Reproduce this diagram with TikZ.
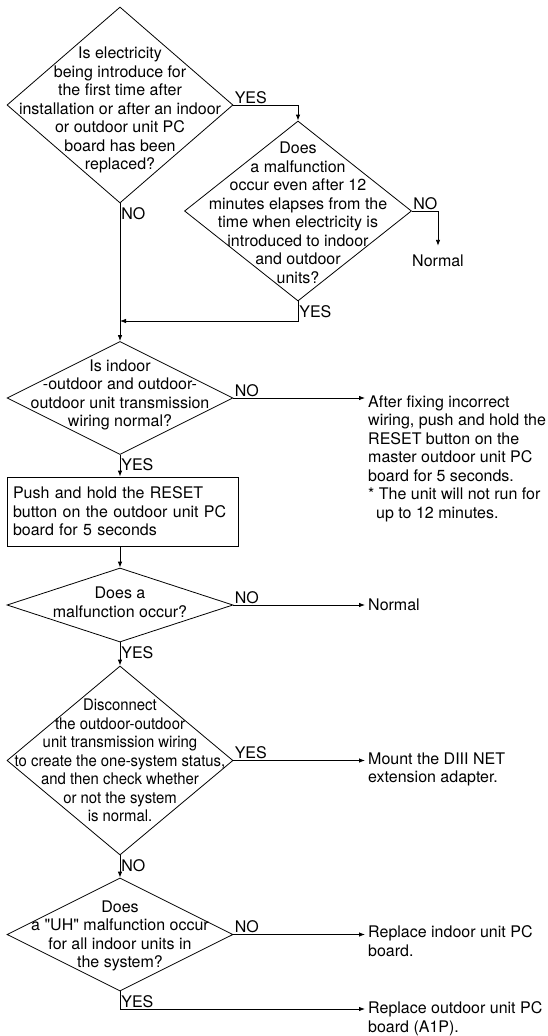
\documentclass[tikz,border=0pt]{standalone}
\usepackage{fontspec}
\usepackage{graphicx}
\setmainfont{TeX Gyre Heros}
\usetikzlibrary{positioning,arrows.meta,shapes.geometric,calc}
\tikzset{
  dia/.style={draw, diamond, inner sep=0pt, line width=0.8pt},
  qtext/.style={align=center, inner sep=0pt},
  stepbox/.style={draw, line width=0.8pt, align=left, inner ysep=0pt,
                  inner xsep=6pt},
  ans/.style={align=left, inner sep=0pt, anchor=north west},
  lbl/.style={inner sep=1pt},
  arrow/.style={-{Latex[length=6pt,width=4.5pt]}, line width=0.8pt},
}

\begin{document}
\begin{tikzpicture}[x=1pt, y=-1pt, font=\fontsize{16}{18.5}\selectfont]
  \useasboundingbox (0,0) rectangle (547,1036);

  % first start-up check
  \node[dia, minimum width=226pt, minimum height=196pt] (Q1) at (120,105) {};
  \node[qtext] (Q1t) at (120,110) {Is electricity\\being introduce for\\the first time after\\installation or after an indoor\\or outdoor unit PC\\board has been\\replaced?};
  \node[dia, minimum width=227pt, minimum height=180pt] (Q2) at (298,211) {};
  \node[qtext] (Q2t) at (298,213) {Does\\a malfunction\\occur even after 12\\minutes elapses from the\\time when electricity is\\introduced to indoor\\and outdoor\\units?};
  \node[inner sep=0pt] (N1) at (438,261) {Normal};
  \coordinate (J1) at (120,321);

  \draw[arrow] (Q1.east) -| (Q2.north) node[lbl, pos=0, anchor=south west] (L1) {YES};
  \draw[arrow] (Q2.east) -| ([yshift=9pt]N1.north) node[lbl, pos=0, anchor=south west] (L2) {NO};
  \draw[arrow] (Q2.south) |- (J1) node[lbl, pos=0, anchor=north west, yshift=-3pt] (L3) {YES};

  % wiring check
  \node[dia, minimum width=226pt, minimum height=113pt] (Q3) at (120,398) {};
  \node[qtext] (Q3t) at (120,395) {Is indoor\\-outdoor and outdoor-\\outdoor unit transmission\\wiring normal?};
  \node[ans] (E1) at (368,395.5) {After fixing incorrect\\wiring, push and hold the\\RESET button on the\\master outdoor unit PC\\board for 5 seconds.\\* The unit will not run for\\\hspace*{8pt}up to 12 minutes.};
  \draw[arrow] (Q1.south) -- (Q3.north) node[lbl, pos=0, anchor=north west, yshift=-3pt] (L4) {NO};
  \draw[arrow, shorten >=3pt] (Q3.east) -- (Q3.east -| E1.west) node[lbl, pos=0, anchor=south west] (L5) {NO};

  % reset
  \node[stepbox, minimum width=231pt, minimum height=69pt, text width=219pt] (B1) at (122.5,511.5) {Push and hold the RESET\\button on the outdoor unit PC\\board for 5 seconds};
  \draw[arrow] (Q3.south) -- (Q3.south |- B1.north) node[lbl, pos=0, anchor=north west, yshift=-2pt] (L6) {YES};

  % malfunction after reset
  \node[dia, minimum width=226pt, minimum height=74pt] (Q4) at (120,605) {};
  \node[qtext] (Q4t) at (120,602.5) {Does a\\malfunction occur?};
  \node[inner sep=0pt, anchor=west] (E2) at (368,605) {Normal};
  \draw[arrow] (Q3.south |- B1.south) -- (Q4.north);
  \draw[arrow, shorten >=3pt] (Q4.east) -- (E2.west) node[lbl, pos=0, anchor=south west] (L7) {NO};

  % one-system status
  \node[dia, minimum width=226pt, minimum height=189pt] (Q5) at (120,760.5) {};
  \node[qtext] (Q5t) at (120,762.5) {\scalebox{0.93}[1]{\begin{tabular}{@{}c@{}}Disconnect\\the outdoor-outdoor\\unit transmission wiring\\to create the one-system status,\\and then check whether\\or not the system\\is normal.\end{tabular}}};
  \node[ans] (E3) at (368,752.5) {Mount the DIII NET\\extension adapter.};
  \draw[arrow] (Q4.south) -- (Q5.north) node[lbl, pos=0, anchor=north west, yshift=-3pt] (L8) {YES};
  \draw[arrow, shorten >=3pt] (Q5.east) -- (Q5.east -| E3.west) node[lbl, pos=0, anchor=south west] (L9) {YES};

  % UH check
  \node[dia, minimum width=226pt, minimum height=113pt] (Q6) at (120,934.5) {};
  \node[qtext] (Q6t) at (120,936) {Does\\a \textquotedbl UH\textquotedbl\ malfunction occur\\for all indoor units in\\the system?};
  \node[ans] (E4) at (368,925.5) {Replace indoor unit PC\\board.};
  \node[ans] (E5) at (368,1001.5) {Replace outdoor unit PC\\board (A1P).};
  \draw[arrow] (Q5.south) -- (Q6.north) node[lbl, pos=0, anchor=north west, yshift=-3pt] (L10) {NO};
  \draw[arrow, shorten >=3pt] (Q6.east) -- (Q6.east -| E4.west) node[lbl, pos=0, anchor=south west] (L11) {NO};
  \draw[arrow, shorten >=3pt] (Q6.south) |- ([yshift=-7.5pt]E5.north west) node[lbl, pos=0, anchor=north west, yshift=-3pt] (L12) {YES};
\end{tikzpicture}
\end{document}
